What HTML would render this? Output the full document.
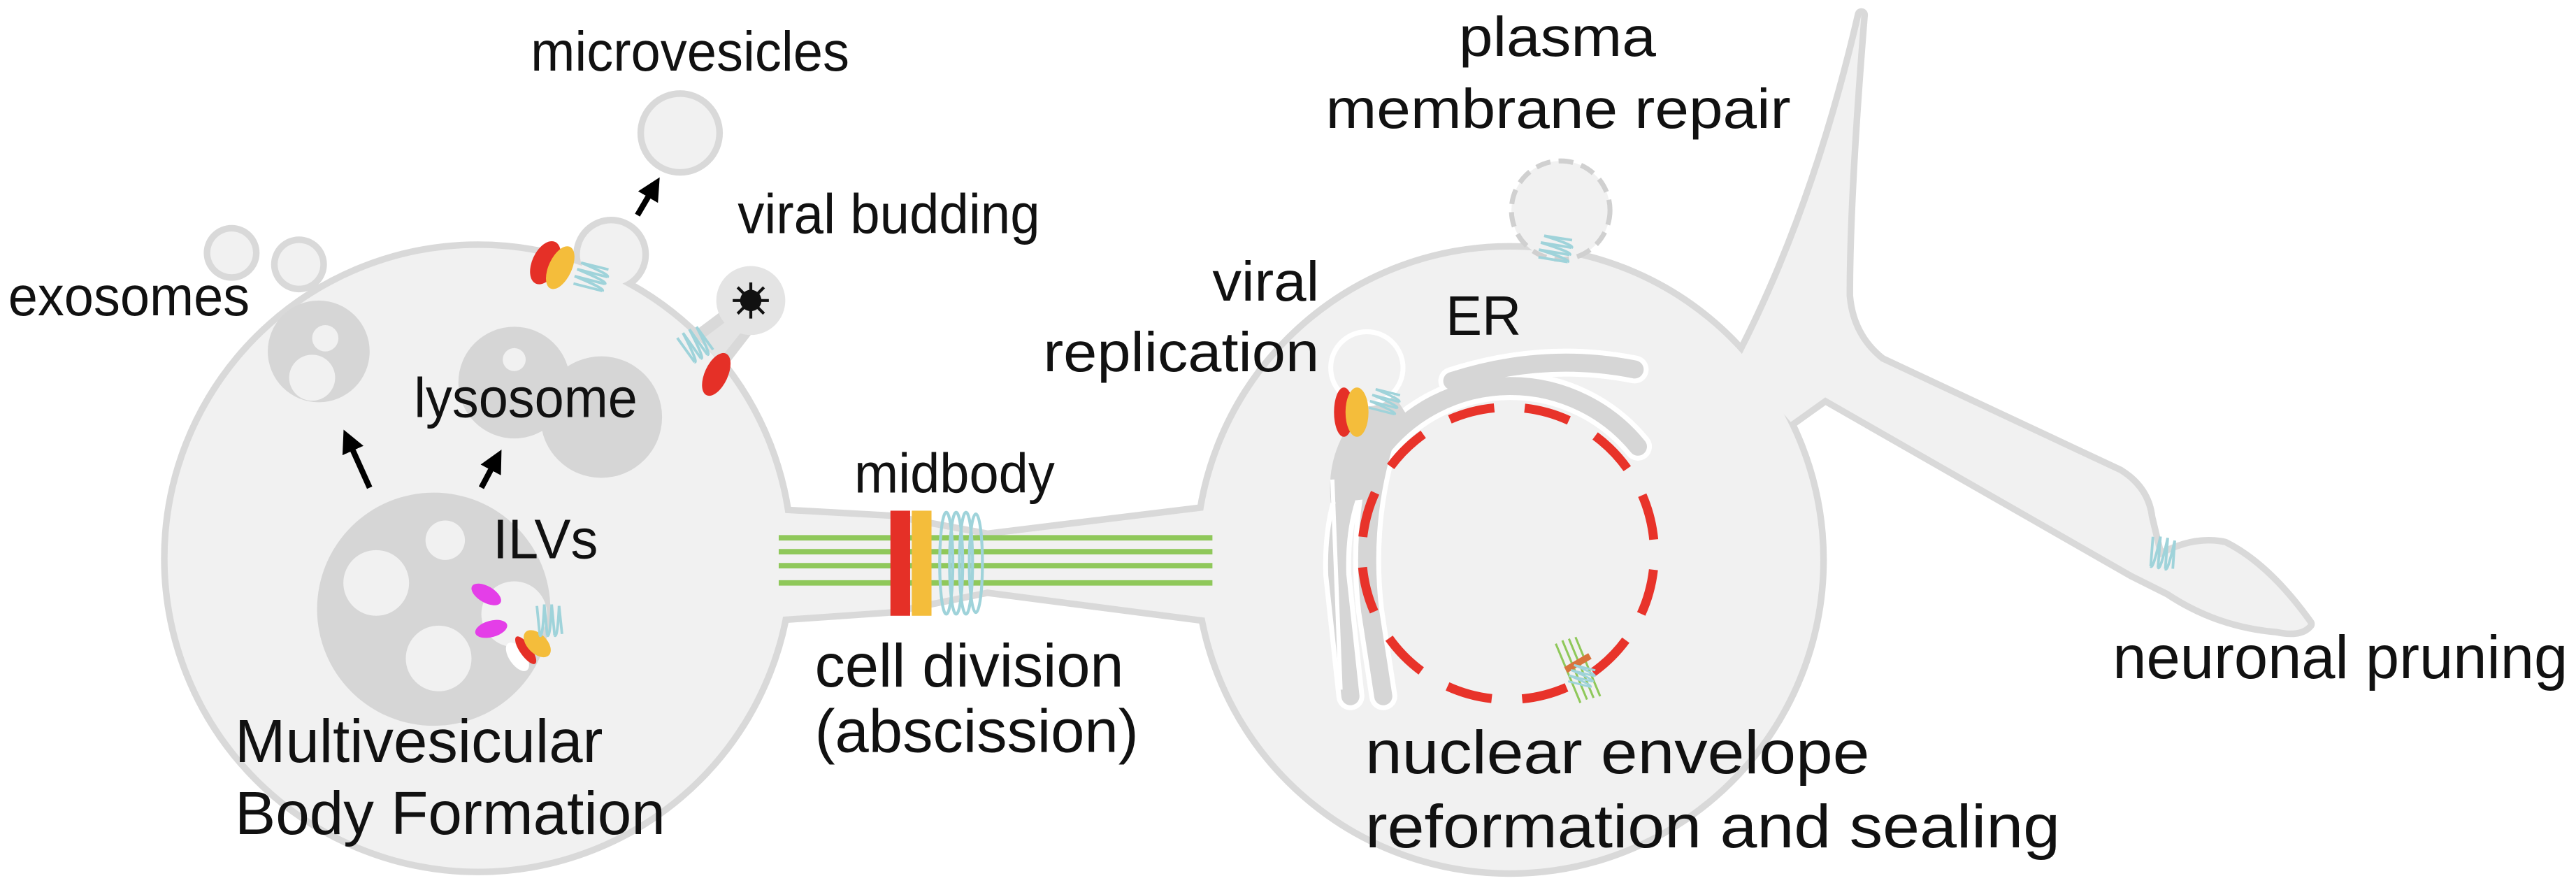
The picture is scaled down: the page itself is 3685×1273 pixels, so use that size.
<!DOCTYPE html>
<html><head><meta charset="utf-8"><style>
html,body{margin:0;padding:0;background:#fff;}
svg{display:block;}
text{font-family:"Liberation Sans",Arial,sans-serif;fill:#111;}
</style></head><body>
<svg width="3685" height="1273" viewBox="0 0 1568 542" preserveAspectRatio="none" xmlns="http://www.w3.org/2000/svg">
<defs>
<g id="coil" fill="none" stroke="#9fd3da" stroke-width="1.8">
<path d="M-8,-10 L-6,10 M-3,-11 L-1,10 M2,-11 L4,10 M7,-10 L9,9"/>
<path d="M-6,10 Q-4,12 -3,-11 M-1,10 Q1,12 2,-11 M4,10 Q6,12 7,-10"/>
</g>
<marker id="ah" markerWidth="4" markerHeight="4" refX="2" refY="2" orient="auto" markerUnits="strokeWidth"><path d="M0,0 L4,2 L0,4 Z" fill="#000"/></marker>
</defs>

<g fill="#d9d9d9" stroke="#d9d9d9" stroke-width="8" stroke-linejoin="round">
<circle cx="291" cy="340" r="189"/>
<circle cx="919" cy="341" r="189"/>
<polygon points="470,312 542,316 601,327 740,310 740,377 601,359 542,371 470,376"/>
<path d="M1058,220 Q1105,130 1133,9 Q1124,120 1124,180 Q1126,205 1145,220 L1290,288 Q1306,298 1308,315 L1314,340 Q1335,328 1354,332 Q1380,345 1405,380 Q1400,386 1386,383 Q1350,380 1320,360 L1298,349 L1111,242 L1090,257 Z"/>
<circle cx="372" cy="155" r="19"/>
<path d="M425,205 L445,190 L455,200 L438,222 Z"/>
<circle cx="141" cy="154" r="13"/>
<circle cx="182" cy="161" r="13"/>
<circle cx="414" cy="81" r="22"/>
</g>
<g fill="#f1f1f1" stroke="none">
<circle cx="291" cy="340" r="189"/>
<circle cx="919" cy="341" r="189"/>
<polygon points="470,312 542,316 601,327 740,310 740,377 601,359 542,371 470,376"/>
<path d="M1058,220 Q1105,130 1133,9 Q1124,120 1124,180 Q1126,205 1145,220 L1290,288 Q1306,298 1308,315 L1314,340 Q1335,328 1354,332 Q1380,345 1405,380 Q1400,386 1386,383 Q1350,380 1320,360 L1298,349 L1111,242 L1090,257 Z"/>
<circle cx="372" cy="155" r="19"/>
<circle cx="141" cy="154" r="13"/>
<circle cx="182" cy="161" r="13"/>
<circle cx="414" cy="81" r="22"/>
</g>
<path d="M427,207 L447,192 L453,200 L437,220 Z" fill="#e4e4e4"/>
<circle cx="457" cy="183" r="21" fill="#e4e4e4"/>
<g stroke="#111" stroke-width="1.8">
<path d="M446,183 L468,183 M457,172 L457,194 M449,175 L465,191 M465,175 L449,191"/>
</g>
<circle cx="457" cy="183" r="6.5" fill="#111"/>

<g fill="#d6d6d6">
<circle cx="194" cy="214" r="31"/>
<circle cx="313" cy="233" r="34"/>
<circle cx="366" cy="254" r="37"/>
<circle cx="264" cy="371" r="71"/>
</g>
<g fill="#f1f1f1">
<circle cx="198" cy="206" r="8"/>
<circle cx="190" cy="230" r="14"/>
<circle cx="313" cy="219" r="7"/>
<circle cx="229" cy="355" r="20"/>
<circle cx="271" cy="329" r="12"/>
<circle cx="267" cy="401" r="20"/>
<circle cx="313" cy="374" r="20"/>
</g>
<ellipse cx="296" cy="362" rx="10" ry="5" transform="rotate(30 296 362)" fill="#e43ee8"/>
<ellipse cx="299" cy="383" rx="10" ry="5" transform="rotate(-15 299 383)" fill="#e43ee8"/>
<ellipse cx="315" cy="400" rx="5" ry="10" transform="rotate(-35 315 400)" fill="#fff"/>
<ellipse cx="320" cy="396" rx="3.5" ry="10" transform="rotate(-35 320 396)" fill="#e53027"/>
<ellipse cx="327" cy="392" rx="6" ry="10" transform="rotate(-45 327 392)" fill="#f4bd3b"/>
<use href="#coil" transform="translate(334,378) scale(0.9)"/>

<g stroke="#000" stroke-width="3.5" fill="none">
<line x1="225" y1="297" x2="212" y2="268" marker-end="url(#ah)"/>
<line x1="293" y1="297" x2="302" y2="280" marker-end="url(#ah)"/>
<line x1="388" y1="131" x2="398" y2="114" marker-end="url(#ah)"/>
</g>

<ellipse cx="332" cy="160" rx="8" ry="14" transform="rotate(25 332 160)" fill="#e53027"/>
<ellipse cx="341" cy="163" rx="7" ry="14" transform="rotate(25 341 163)" fill="#f4bd3b"/>
<use href="#coil" transform="translate(360,169) rotate(-70) scale(0.9)"/>
<use href="#coil" transform="translate(423,210) rotate(-30) scale(0.9)"/>
<ellipse cx="436" cy="228" rx="7" ry="14" transform="rotate(25 436 228)" fill="#e53027"/>

<g stroke="#8fc85a" stroke-width="3.3">
<line x1="474" y1="327.5" x2="738" y2="327.5"/>
<line x1="474" y1="336" x2="738" y2="336"/>
<line x1="474" y1="344.5" x2="738" y2="344.5"/>
<line x1="474" y1="355" x2="738" y2="355"/>
</g>
<rect x="542" y="311" width="12" height="64" fill="#e53027"/>
<rect x="555" y="311" width="12" height="64" fill="#f4bd3b"/>
<g fill="none" stroke="#9fd3da" stroke-width="1.8">
<ellipse cx="576" cy="343" rx="4" ry="31"/>
<ellipse cx="582" cy="343" rx="4" ry="31"/>
<ellipse cx="588" cy="343" rx="4" ry="31"/>
<ellipse cx="594" cy="343" rx="4" ry="30"/>
</g>

<g fill="none" stroke="#fff" stroke-width="17" stroke-linecap="round">
<path d="M884,232 Q940,214 995,225"/>
<path d="M997,272 A100 100 0 0 0 841,273"/>
<path d="M848,262 Q812,290 814,350 L822,424"/>
<path d="M842,272 Q828,320 834,372 L842,424"/>
</g>
<g fill="none" stroke="#d6d6d6" stroke-width="11" stroke-linecap="round">
<path d="M884,232 Q940,214 995,225"/>
<path d="M997,272 A100 100 0 0 0 841,273"/>
<path d="M848,262 Q812,290 814,350 L822,424"/>
<path d="M842,272 Q828,320 834,372 L842,424"/>
</g>
<path d="M852,246 Q818,268 822,305" stroke="#d6d6d6" stroke-width="24" fill="none"/>
<path d="M811,292 L816,420" stroke="#fff" stroke-width="2.5" fill="none"/>
<circle cx="832" cy="224" r="22" fill="#f1f1f1" stroke="#fff" stroke-width="3"/>
<ellipse cx="818" cy="251" rx="6" ry="15" fill="#e53027"/>
<ellipse cx="826" cy="251" rx="7" ry="15" fill="#f4bd3b"/>
<use href="#coil" transform="translate(843,245) rotate(-70) scale(0.8)"/>

<circle cx="918" cy="337" r="89" fill="none" stroke="#e8332a" stroke-width="5.5" stroke-dasharray="28 18.6" stroke-dashoffset="-10"/>
<g stroke="#8fc85a" stroke-width="1.3">
<path d="M951,390 L966,426 M955,389 L970,425 M959,388 L974,424 M947,392 L962,428"/>
</g>
<rect x="952" y="402" width="17" height="4" fill="#d9733c" transform="rotate(-30 960 404)"/>
<use href="#coil" transform="translate(963,412) rotate(-70) scale(0.7)"/>

<circle cx="950" cy="128" r="30" fill="#f1f1f1" stroke="#d0d0d0" stroke-width="3" stroke-dasharray="9 5"/>
<use href="#coil" transform="translate(947,152) rotate(-75) scale(0.9)"/>
<use href="#coil" transform="translate(1316,337) rotate(10) scale(0.9)"/>

<g font-size="34">
<text x="323" y="43" textLength="194" lengthAdjust="spacingAndGlyphs">microvesicles</text>
<text x="449" y="142" textLength="184" lengthAdjust="spacingAndGlyphs">viral budding</text>
<text x="5" y="192" textLength="147" lengthAdjust="spacingAndGlyphs">exosomes</text>
<text x="252" y="254" textLength="136" lengthAdjust="spacingAndGlyphs">lysosome</text>
<text x="300" y="340" textLength="64" lengthAdjust="spacingAndGlyphs">ILVs</text>
<text x="520" y="300" textLength="122" lengthAdjust="spacingAndGlyphs">midbody</text>
<text x="738" y="183" textLength="65" lengthAdjust="spacingAndGlyphs">viral</text>
<text x="635" y="226" textLength="168" lengthAdjust="spacingAndGlyphs">replication</text>
<text x="880" y="204" textLength="46" lengthAdjust="spacingAndGlyphs">ER</text>
<text x="888" y="34" textLength="120" lengthAdjust="spacingAndGlyphs">plasma</text>
<text x="807" y="78" textLength="283" lengthAdjust="spacingAndGlyphs">membrane repair</text>
</g>
<g font-size="37">
<text x="496" y="418" textLength="188" lengthAdjust="spacingAndGlyphs">cell division</text>
<text x="496" y="458" textLength="197" lengthAdjust="spacingAndGlyphs">(abscission)</text>
<text x="143" y="464" textLength="224" lengthAdjust="spacingAndGlyphs">Multivesicular</text>
<text x="143" y="508" textLength="262" lengthAdjust="spacingAndGlyphs">Body Formation</text>
<text x="831" y="471" textLength="307" lengthAdjust="spacingAndGlyphs">nuclear envelope</text>
<text x="831" y="516" textLength="423" lengthAdjust="spacingAndGlyphs">reformation and sealing</text>
<text x="1286" y="413" textLength="277" lengthAdjust="spacingAndGlyphs">neuronal pruning</text>
</g>
</svg>
</body></html>
